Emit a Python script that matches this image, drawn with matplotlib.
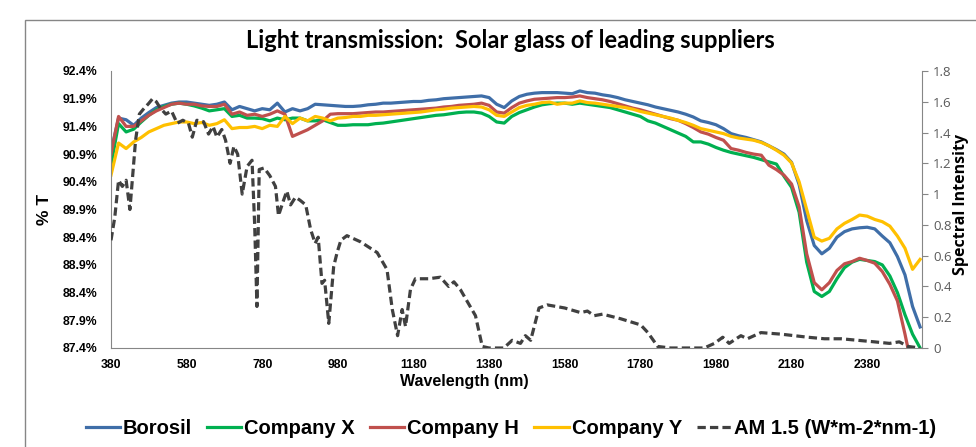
import numpy as np
import matplotlib
matplotlib.use("Agg")
import matplotlib.pyplot as plt
from matplotlib.patches import Rectangle

# wavelength grid of the transmission curves (nm)
wl = np.arange(380, 2521, 20)

borosil = [90.95, 91.55, 91.52, 91.42, 91.55, 91.65, 91.74, 91.78, 91.82, 91.84,
           91.84, 91.82, 91.80, 91.78, 91.80, 91.84, 91.70, 91.76, 91.72, 91.68,
           91.72, 91.70, 91.82, 91.66, 91.72, 91.68, 91.72, 91.80, 91.79, 91.78,
           91.77, 91.76, 91.76, 91.77, 91.79, 91.80, 91.82, 91.82, 91.83, 91.84,
           91.85, 91.85, 91.87, 91.88, 91.90, 91.91, 91.92, 91.93, 91.94, 91.95,
           91.92, 91.80, 91.74, 91.86, 91.94, 91.98, 92.00, 92.01, 92.01, 92.01,
           92.00, 91.99, 92.04, 92.01, 92.00, 91.97, 91.95, 91.92, 91.88, 91.85,
           91.82, 91.79, 91.75, 91.72, 91.69, 91.66, 91.62, 91.57, 91.50, 91.47,
           91.43, 91.36, 91.27, 91.23, 91.20, 91.16, 91.12, 91.05, 90.98, 90.90,
           90.75, 90.35, 89.70, 89.25, 89.10, 89.20, 89.40, 89.50, 89.55, 89.57,
           89.58, 89.55, 89.42, 89.30, 89.05, 88.72, 88.15, 87.78]

company_x = [90.70, 91.45, 91.30, 91.35, 91.48, 91.60, 91.70, 91.76, 91.80, 91.82,
             91.80, 91.77, 91.73, 91.68, 91.70, 91.72, 91.58, 91.60, 91.55, 91.55,
             91.54, 91.50, 91.55, 91.52, 91.55, 91.55, 91.50, 91.50, 91.52, 91.47,
             91.42, 91.42, 91.43, 91.43, 91.43, 91.45, 91.46, 91.48, 91.50, 91.52,
             91.54, 91.56, 91.58, 91.60, 91.61, 91.63, 91.65, 91.66, 91.66, 91.64,
             91.58, 91.48, 91.46, 91.58, 91.65, 91.70, 91.75, 91.79, 91.81, 91.82,
             91.82, 91.80, 91.82, 91.80, 91.78, 91.76, 91.74, 91.70, 91.66, 91.62,
             91.58, 91.50, 91.46, 91.40, 91.34, 91.28, 91.22, 91.12, 91.12, 91.08,
             91.02, 90.97, 90.93, 90.90, 90.87, 90.84, 90.80, 90.76, 90.72, 90.50,
             90.30, 89.85, 88.95, 88.42, 88.33, 88.42, 88.65, 88.85, 88.95, 89.00,
             88.98, 88.96, 88.90, 88.70, 88.40, 88.00, 87.65, 87.40]

company_h = [90.90, 91.58, 91.40, 91.40, 91.50, 91.60, 91.68, 91.74, 91.80, 91.82,
             91.80, 91.80, 91.77, 91.76, 91.76, 91.80, 91.62, 91.66, 91.60, 91.62,
             91.58, 91.62, 91.68, 91.62, 91.22, 91.28, 91.34, 91.42, 91.50, 91.62,
             91.63, 91.63, 91.63, 91.64, 91.65, 91.66, 91.66, 91.67, 91.68, 91.69,
             91.70, 91.71, 91.72, 91.73, 91.75, 91.76, 91.78, 91.79, 91.80, 91.82,
             91.78, 91.66, 91.64, 91.74, 91.82, 91.86, 91.89, 91.90, 91.91, 91.92,
             91.92, 91.93, 91.95, 91.92, 91.90, 91.88, 91.85, 91.81, 91.77, 91.73,
             91.70, 91.66, 91.62, 91.58, 91.54, 91.51, 91.45, 91.38, 91.30, 91.26,
             91.20, 91.15, 91.00, 90.97, 90.93, 90.90, 90.88, 90.70, 90.62, 90.52,
             90.36, 89.95, 89.10, 88.58, 88.45, 88.58, 88.80, 88.92, 88.96, 89.02,
             88.98, 88.93, 88.78, 88.55, 88.25, 87.65, 87.00, 86.80]

company_y = [90.52, 91.10, 91.00, 91.12, 91.20, 91.30, 91.36, 91.42, 91.45, 91.48,
             91.48, 91.45, 91.47, 91.42, 91.45, 91.52, 91.36, 91.38, 91.38, 91.40,
             91.36, 91.42, 91.40, 91.58, 91.45, 91.55, 91.50, 91.58, 91.55, 91.50,
             91.55, 91.56, 91.58, 91.58, 91.60, 91.60, 91.61, 91.62, 91.63, 91.64,
             91.65, 91.66, 91.68, 91.70, 91.71, 91.73, 91.74, 91.75, 91.76, 91.75,
             91.70, 91.60, 91.58, 91.66, 91.74, 91.78, 91.80, 91.83, 91.84, 91.80,
             91.82, 91.82, 91.86, 91.83, 91.82, 91.80, 91.78, 91.76, 91.74, 91.71,
             91.67, 91.64, 91.61, 91.58, 91.55, 91.51, 91.47, 91.42, 91.36, 91.33,
             91.30, 91.27, 91.22, 91.19, 91.17, 91.15, 91.11, 91.05, 90.97, 90.88,
             90.74, 90.40, 89.90, 89.40, 89.33, 89.38, 89.55, 89.65, 89.72, 89.80,
             89.78, 89.72, 89.68, 89.60, 89.42, 89.20, 88.82, 89.00]

# AM 1.5 spectrum (secondary axis)
am_wl = [380, 390, 400, 410, 420, 430, 445, 455, 465, 480, 490, 500, 510, 525, 540,
         555, 570, 585, 595, 607, 625, 638, 650, 660, 673, 683, 695, 705, 715, 727,
         740, 753, 760, 766, 772, 785, 800, 815, 823, 835, 845, 855, 868, 880, 895,
         908, 920, 928, 938, 945, 956, 969, 978, 988, 1004, 1040, 1084, 1110, 1124,
         1138, 1150, 1159, 1172, 1185, 1220, 1251, 1273, 1287, 1304, 1344, 1362,
         1380, 1419, 1441, 1463, 1476, 1490, 1512, 1534, 1580, 1622, 1640, 1658,
         1680, 1728, 1781, 1800, 1826, 1860, 1949, 1976, 1998, 2015, 2046, 2063,
         2099, 2152, 2223, 2267, 2311, 2355, 2399, 2439, 2465, 2488, 2520]
am15 = [0.70, 0.85, 1.09, 1.05, 1.09, 0.90, 1.35, 1.52, 1.55, 1.59, 1.62, 1.60, 1.56,
        1.52, 1.54, 1.46, 1.48, 1.46, 1.37, 1.48, 1.47, 1.39, 1.44, 1.37, 1.42, 1.35,
        1.20, 1.31, 1.26, 1.00, 1.18, 1.22, 0.80, 0.27, 1.16, 1.17, 1.12, 1.05, 0.86,
        0.95, 1.02, 0.93, 0.98, 0.96, 0.93, 0.77, 0.68, 0.72, 0.42, 0.44, 0.16, 0.53,
        0.62, 0.70, 0.73, 0.69, 0.62, 0.51, 0.25, 0.08, 0.25, 0.14, 0.38, 0.45, 0.45,
        0.46, 0.40, 0.43, 0.38, 0.21, 0.01, 0.00, 0.00, 0.05, 0.03, 0.08, 0.05, 0.26,
        0.28, 0.26, 0.23, 0.24, 0.21, 0.22, 0.19, 0.15, 0.10, 0.01, 0.00, 0.00, 0.03,
        0.07, 0.03, 0.08, 0.06, 0.10, 0.09, 0.07, 0.06, 0.06, 0.05, 0.04, 0.03, 0.04,
        0.01, 0.00]

x_ticks = list(range(380, 2381, 200))
left_ticks = [87.4, 87.9, 88.4, 88.9, 89.4, 89.9, 90.4, 90.9, 91.4, 91.9, 92.4]
right_ticks = [0, 0.2, 0.4, 0.6, 0.8, 1, 1.2, 1.4, 1.6, 1.8]

fig = plt.figure(figsize=(9.76, 4.47), dpi=100)
ax = fig.add_axes([111 / 976, 1 - 348 / 447, (922 - 111) / 976, (348 - 71) / 447])

lw = 2.3
ax.plot(wl, borosil, color="#3F6EA8", lw=lw, label="Borosil")
ax.plot(wl, company_x, color="#00B050", lw=lw, label="Company X")
ax.plot(wl, company_h, color="#C0504D", lw=lw, label="Company H")
ax.plot(wl, company_y, color="#FFC000", lw=lw, label="Company Y")

ax.set_xlim(380, 2525)
ax.set_ylim(87.4, 92.4)
ax.set_xticks(x_ticks)
ax.set_yticks(left_ticks)
ax.set_yticklabels([f"{v:.1f}%" for v in left_ticks])
ax.tick_params(axis="both", length=0)
ax.tick_params(axis="y", pad=10)
ax.tick_params(axis="x", pad=8)
for lab in ax.get_xticklabels() + ax.get_yticklabels():
    lab.set_fontfamily("Liberation Sans")
    lab.set_fontweight("bold")
    lab.set_fontsize(8.8)
for s in ["top", "right"]:
    ax.spines[s].set_visible(False)
for s in ["left", "bottom"]:
    ax.spines[s].set_color("#868686")
ax.set_xlabel("Wavelength (nm)", fontfamily="Liberation Sans", fontweight="bold",
              fontsize=11.5)
ax.xaxis.set_label_coords((464 - 111) / 811, -0.095)
ax.set_ylabel("% T", fontfamily="Liberation Sans", fontweight="bold", fontsize=12.5)
ax.yaxis.set_label_coords(-(111 - 52) / 811, 0.5)

ax2 = ax.twinx()
am_line, = ax2.plot(am_wl, am15, color="#404040", lw=lw, label="AM 1.5 (W*m-2*nm-1)")
am_line.set_dashes((2.6, 1.3))
ax2.set_ylim(0, 1.8)
ax2.set_yticks(right_ticks)
ax2.set_yticklabels([f"{v:g}" for v in right_ticks])
ax2.tick_params(axis="y", length=4, color="#868686", labelcolor="#595959",
                labelsize=9.5, pad=4)
for lab in ax2.get_yticklabels():
    lab.set_fontfamily("Open Sans")
for s in ["top", "left", "bottom"]:
    ax2.spines[s].set_visible(False)
ax2.spines["right"].set_color("#868686")
ax2.set_ylabel("Spectral Intensity", fontfamily="Open Sans", fontweight="bold",
               fontsize=11.5)
ax2.yaxis.set_label_coords((953 - 111) / 811, 0.52)

fig.text(510 / 976, 1 - 40 / 447, "Light transmission:  Solar glass of leading suppliers",
         ha="center", va="center", fontfamily="Lato", fontweight="bold", fontsize=17)

handles = ax.get_lines() + [am_line]
fig.legend(handles, [h.get_label() for h in handles], loc="center",
           bbox_to_anchor=(511 / 976, 1 - 429 / 447), ncol=5, frameon=False,
           prop={"family": "Liberation Sans", "weight": "bold", "size": 14.5},
           handlelength=1.7, handletextpad=0.15, columnspacing=0.75)

# chart border
fig.add_artist(Rectangle((25 / 976, -0.1), 1.2, 1.1 - 20 / 447,
                         transform=fig.transFigure, fill=False,
                         edgecolor="#868686", lw=1))

fig.savefig("out.png", dpi=100)
